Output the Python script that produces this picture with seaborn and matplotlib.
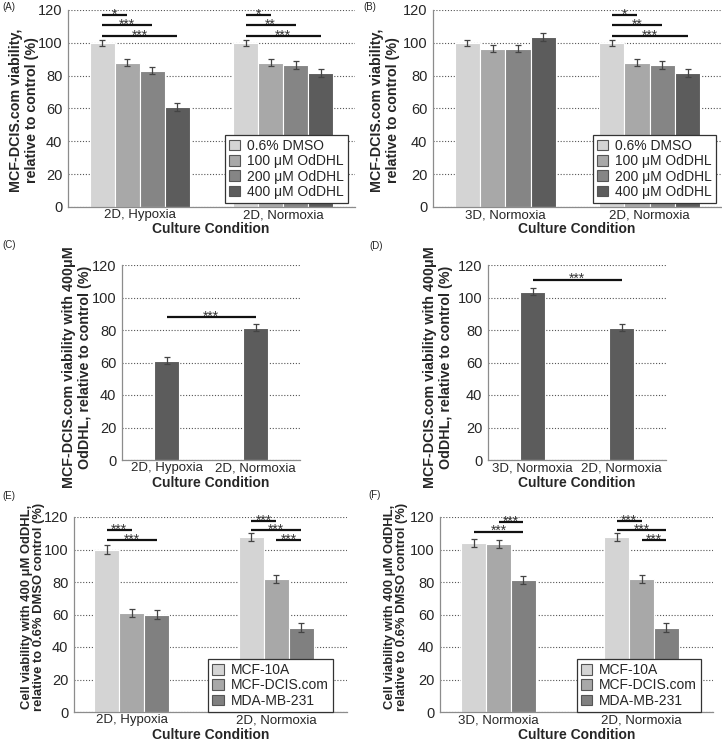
import numpy as np
import pandas as pd
import matplotlib
matplotlib.use('Agg')
import matplotlib.pyplot as plt
import seaborn as sns

sns.set_style('white')
plt.rcParams['font.family'] = ['Liberation Sans', 'DejaVu Sans']

W, H = 722, 742

# ---- data ----
dose = ['0.6% DMSO', '100 μM OdDHL', '200 μM OdDHL', '400 μM OdDHL']
dose_cols = ['#d4d4d4', '#a8a8a8', '#858585', '#5c5c5c']
cells = ['MCF-10A', 'MCF-DCIS.com', 'MDA-MB-231']
cell_cols = ['#d4d4d4', '#a8a8a8', '#808080']

# (A)
cond_a = ['2D, Hypoxia', '2D, Normoxia']
val_a = [[100, 88, 83, 61], [100, 88, 86.5, 81.5]]
err_a = [[2, 2.3, 2.2, 2.3], [2, 2.2, 2.2, 2.3]]
sig_a = [(0, 0, 1, 117, '*'), (0, 0, 2, 111, '***'), (0, 0, 3, 104, '***'),
         (1, 0, 1, 117, '*'), (1, 0, 2, 111, '**'), (1, 0, 3, 104, '***')]

# (B)
cond_b = ['3D, Normoxia', '2D, Normoxia']
val_b = [[100, 96.5, 96.5, 103.5], [100, 88, 86.5, 81.5]]
err_b = [[2, 2.2, 2.3, 2.3], [2, 2.2, 2.2, 2.3]]
sig_b = [(1, 0, 1, 117, '*'), (1, 0, 2, 111, '**'), (1, 0, 3, 104, '***')]

# (C)
cond_c = ['2D, Hypoxia', '2D, Normoxia']
val_c = [61, 81.5]
err_c = [2.2, 2.3]
sig_c = [(0, 1, 88, '***')]

# (D)
cond_d = ['3D, Normoxia', '2D, Normoxia']
val_d = [103.5, 81.5]
err_d = [2.2, 2.3]
sig_d = [(0, 1, 111, '***')]

# (E)
cond_e = ['2D, Hypoxia', '2D, Normoxia']
val_e = [[100, 61, 60], [107.5, 82, 52]]
err_e = [[2.5, 2.5, 2.5], [2.5, 2.5, 2.5]]
sig_e = [(0, 0, 1, 112, '***'), (0, 0, 2, 106, '***'),
         (1, 0, 1, 117.5, '***'), (1, 0, 2, 112, '***'), (1, 1, 2, 106, '***')]

# (F)
cond_f = ['3D, Normoxia', '2D, Normoxia']
val_f = [[104, 103.5, 81.5], [107.5, 82, 52]]
err_f = [[2.5, 2.5, 2.5], [2.5, 2.5, 2.5]]
sig_f = [(0, 1, 2, 117, '***'), (0, 0, 2, 111, '***'),
         (1, 0, 1, 117.5, '***'), (1, 0, 2, 112, '***'), (1, 1, 2, 106, '***')]

lab_ab = 'MCF-DCIS.com viability,\nrelative to control (%)'
lab_cd = 'MCF-DCIS.com viability with 400μM\nOdDHL, relative to control (%)'
lab_ef = 'Cell viability with 400 μM OdDHL,\nrelative to 0.6% DMSO control (%)'

fig = plt.figure(figsize=(W / 100, H / 100), dpi=100)


def rect(l, t, r, b):
    return [l / W, 1 - b / H, (r - l) / W, (b - t) / H]


def style(ax, xlim):
    ax.set_ylim(0, 120)
    ax.set_yticks(range(0, 121, 20))
    ax.set_xlim(*xlim)
    ax.set_xlabel('')
    ax.set_ylabel('')
    ax.set_axisbelow(True)
    ax.yaxis.grid(True, linestyle=(0, (1, 1.6)), color='#555555', lw=0.8)
    for s in ['top', 'right']:
        ax.spines[s].set_visible(False)
    for s in ['left', 'bottom']:
        ax.spines[s].set_color('#8c8c8c')
        ax.spines[s].set_linewidth(0.9)
    ax.tick_params(axis='y', length=0, pad=4, labelsize=10.5)
    ax.tick_params(axis='x', length=0, pad=1.5, labelsize=9.5)


def bracket(ax, x1, x2, y, txt):
    ax.plot([x1, x2], [y, y], color='#111111', lw=1.6, solid_capstyle='butt')
    ax.annotate(txt, ((x1 + x2) / 2, y), xytext=(0, -2.6), textcoords='offset points',
                ha='center', va='baseline', fontsize=10, color='#333333')


def grouped(pos, conds, levels, cols, vals, errs, sigs, width, xlim, leg_x):
    ax = fig.add_axes(rect(*pos))
    df = pd.DataFrame({
        'cond': np.repeat(conds, len(levels)),
        'grp': levels * len(conds),
        'val': np.ravel(vals),
    })
    sns.barplot(data=df, x='cond', y='val', hue='grp', order=conds, hue_order=levels,
                palette=cols, width=width, errorbar=None, edgecolor='white',
                linewidth=0.8, ax=ax)
    bars = list(ax.containers)
    centers = []
    for k, cont in enumerate(bars):
        xs = [b.get_x() + b.get_width() / 2 for b in cont]
        centers.append(xs)
        ax.errorbar(xs, [vals[i][k] for i in range(len(conds))],
                    yerr=[errs[i][k] for i in range(len(conds))], fmt='none',
                    ecolor='#444444', elinewidth=0.9, capsize=2.2, capthick=0.9)
    for c, i, j, y, t in sigs:
        bracket(ax, centers[i][c], centers[j][c], y, t)
    style(ax, xlim)
    sns.move_legend(ax, 'lower right', bbox_to_anchor=(leg_x[0], leg_x[1]), title=None,
                    frameon=True, fancybox=False, fontsize=10, handlelength=0.8,
                    handleheight=0.8, handletextpad=0.5, labelspacing=0.1,
                    borderpad=0.3, borderaxespad=0, framealpha=1)
    leg = ax.get_legend()
    leg.get_frame().set_edgecolor('#333333')
    leg.get_frame().set_linewidth(0.9)
    for h in leg.legend_handles:
        h.set_edgecolor('#555555')
        h.set_linewidth(0.8)
    return ax


def single(pos, conds, vals, errs, sigs, xlim):
    ax = fig.add_axes(rect(*pos))
    sns.barplot(x=conds, y=vals, color='#5c5c5c', width=0.27, errorbar=None,
                edgecolor='white', linewidth=0.8, ax=ax)
    xs = [b.get_x() + b.get_width() / 2 for b in ax.containers[0]]
    ax.errorbar(xs, vals, yerr=errs, fmt='none', ecolor='#444444',
                elinewidth=0.9, capsize=2.2, capthick=0.9)
    for i, j, y, t in sigs:
        bracket(ax, xs[i], xs[j], y, t)
    style(ax, xlim)
    return ax


grouped((68, 10, 355, 207), cond_a, dose, dose_cols, val_a, err_a, sig_a, 0.70,
        (-0.5, 1.5), (0.976, 0.02))
grouped((433, 10, 722, 207), cond_b, dose, dose_cols, val_b, err_b, sig_b, 0.70,
        (-0.5, 1.5), (0.979, 0.02))
single((122, 265, 300, 460), cond_c, val_c, err_c, sig_c, (-0.5, 1.5))
single((488, 265, 666, 460), cond_d, val_d, err_d, sig_d, (-0.5, 1.5))
grouped((74, 517, 347, 712), cond_e, cells, cell_cols, val_e, err_e, sig_e, 0.52,
        (-0.4, 1.49), (0.947, 0.0))
grouped((440, 517, 713, 712), cond_f, cells, cell_cols, val_f, err_f, sig_f, 0.52,
        (-0.41, 1.5), (0.957, 0.0))


def ftext(x, y, s, **kw):
    fig.text(x / W, 1 - y / H, s, **kw)


# y labels
for x, y, s, fs in [(24, 110, lab_ab, 10.3), (385, 110, lab_ab, 10.3),
                    (77, 367, lab_cd, 10.3), (438, 367, lab_cd, 10.3),
                    (33, 607, lab_ef, 9.4), (396, 607, lab_ef, 9.4)]:
    ftext(x, y, s, rotation=90, ha='center', va='center', multialignment='center',
          fontsize=fs, fontweight='bold', linespacing=1.1)

# x labels
for x, y in [(211, 229), (577, 229), (211, 483), (577, 483), (211, 735), (577, 735)]:
    ftext(x, y, 'Culture Condition', ha='center', va='center', fontsize=10,
          fontweight='bold')

# panel letters
for x, y, s in [(2, 7, '(A)'), (363, 7, '(B)'), (2, 245, '(C)'), (369, 246, '(D)'),
                (2, 496, '(E)'), (368, 495, '(F)')]:
    ftext(x, y, s, ha='left', va='center', fontsize=7)

fig.savefig('out.png', dpi=100)
